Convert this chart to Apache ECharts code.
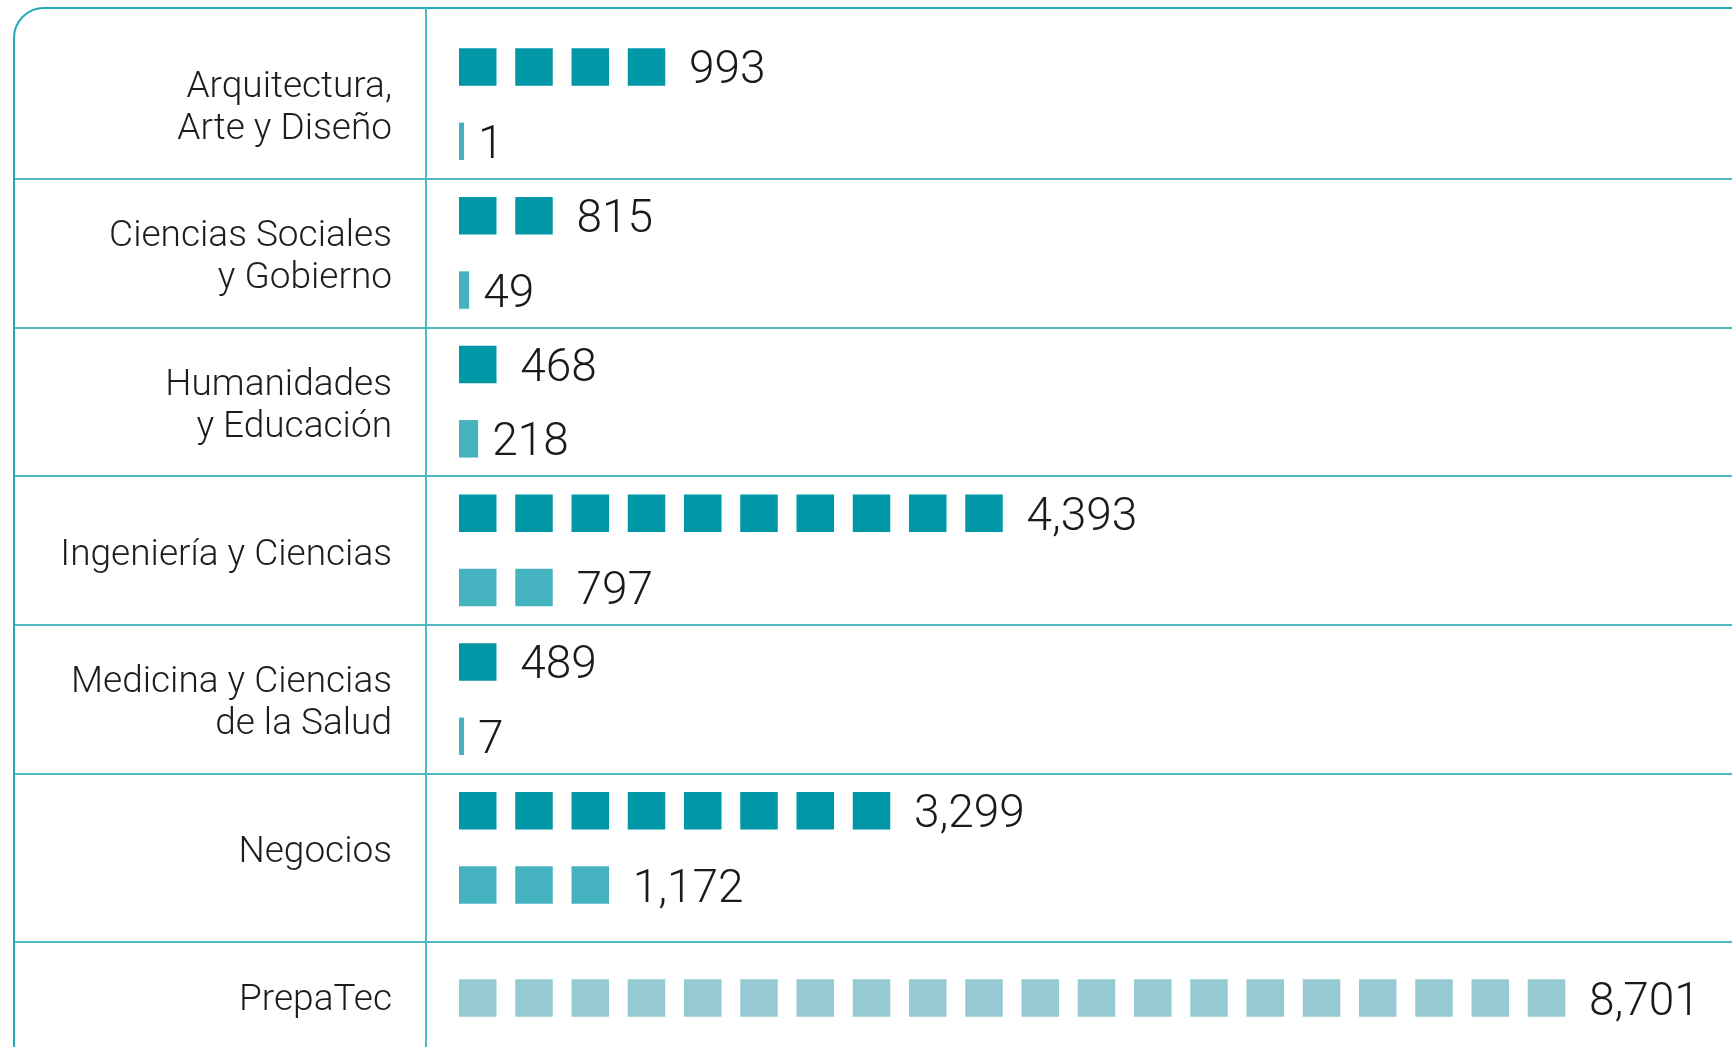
<!DOCTYPE html>
<html>
<head>
<meta charset="utf-8">
<title>Alumnos por escuela</title>
<script src="https://cdn.jsdelivr.net/npm/echarts@6/dist/echarts.min.js"></script>
<style>
  html, body { margin: 0; padding: 0; background: #fff; }
  #chart { width: 1732px; height: 1047px; }
</style>
</head>
<body>
<div id="chart"></div>
<script>
// data
const categories = [
  'Arquitectura,\nArte y Diseño',
  'Ciencias Sociales\ny Gobierno',
  'Humanidades\ny Educación',
  'Ingeniería y Ciencias',
  'Medicina y Ciencias\nde la Salud',
  'Negocios'
];
const valuesTop = [993, 815, 468, 4393, 489, 3299];
const valuesBottom = [1, 49, 218, 797, 7, 1172];
// how many squares each bar shows (1 = one square, < 1 = thin partial bar)
const iconsTop = [4, 2, 1, 10, 1, 8];
const iconsBottom = [0.09, 0.18, 0.34, 2, 0.09, 3];

const prepaCategory = ['PrepaTec'];
const prepaValues = [8701];
const prepaIcons = [20];

const MAX_ICONS = 20;

// layout
const W = 1732;
const FRAME_X = 14;
const BAR_X0 = 459;      // where squares start
const CELL = 56.25;      // px per square slot
const SQ = 37.5;         // square size
const DIVIDER_X = 426;
const ROW = 148.75;
const GRID_TOP = 29.75;
const PREPA_TOP = 942;

const FONT = 'Roboto, "Noto Sans", sans-serif';
const COLOR_TOP = '#0097a7';
const COLOR_BOTTOM = '#45b3bf';
const COLOR_PREPA = '#95cad3';
const LINE = '#4db7c2';

const gridWidth = W - FRAME_X;
const xMin = -(BAR_X0 - FRAME_X) / CELL;
const xMax = xMin + gridWidth / CELL;

const fmt = v => v.toLocaleString('en-US');

function buildItems(icons) {
  return icons.map(n => {
    if (n >= 1) return { value: n };
    // thin bar: one rect whose width follows the value
    return {
      value: n,
      symbolRepeat: false,
      symbolBoundingData: n,
      symbolSize: ['100%', SQ],
      symbolOffset: [0, 0],
      label: { distance: 14 }
    };
  });
}

function iconSeries(name, icons, values, color, idx, bandWidth, dy) {
  return {
    name: name,
    type: 'pictorialBar',
    xAxisIndex: idx,
    yAxisIndex: idx,
    symbol: 'rect',
    symbolRepeat: true,
    symbolBoundingData: MAX_ICONS,
    symbolMargin: '27%!',
    symbolSize: [SQ, SQ],
    symbolOffset: [-SQ * 0.25, dy],
    symbolPosition: 'start',
    barWidth: bandWidth,
    barGap: '0%',
    itemStyle: { color: color },
    label: {
      show: true,
      position: 'right',
      distance: 5,
      offset: [0, 5 + dy],
      fontFamily: FONT,
      fontWeight: 300,
      fontSize: 46,
      color: '#1a1a1a',
      formatter: p => fmt(values[p.dataIndex])
    },
    data: buildItems(icons)
  };
}

const catLabel = {
  inside: true,
  margin: 392 - FRAME_X,
  align: 'right',
  fontFamily: FONT,
  fontWeight: 300,
  fontSize: 37,
  lineHeight: 42,
  color: '#1d1d1b'
};

const hiddenX = i => ({ type: 'value', gridIndex: i, min: xMin, max: xMax, show: false });

const chart = echarts.init(document.getElementById('chart'), null, { renderer: 'canvas' });

chart.setOption({
  animation: false,
  backgroundColor: '#fff',
  grid: [
    { left: FRAME_X, right: 0, top: GRID_TOP, height: ROW * 6 },
    { left: FRAME_X, right: 0, top: PREPA_TOP, height: 105 },
    // label-only grids, nudged down a little like the original typesetting
    { left: FRAME_X, right: 0, top: GRID_TOP + 5, height: ROW * 6 },
    { left: FRAME_X, right: 0, top: 955, height: 92 }
  ],
  xAxis: [hiddenX(0), hiddenX(1), hiddenX(2), hiddenX(3)],
  yAxis: [
    {
      type: 'category', gridIndex: 0, data: categories, inverse: true,
      axisLine: { show: false }, axisTick: { show: false }, axisLabel: { show: false },
      splitLine: { show: true, showMinLine: false, showMaxLine: false, lineStyle: { color: LINE, width: 2 } }
    },
    {
      type: 'category', gridIndex: 1, data: prepaCategory, inverse: true,
      axisLine: { show: false }, axisTick: { show: false }, axisLabel: { show: false },
      splitLine: { show: true, showMinLine: true, showMaxLine: false, lineStyle: { color: LINE, width: 2 } }
    },
    {
      type: 'category', gridIndex: 2, data: categories, inverse: true,
      axisLine: { show: false }, axisTick: { show: false }, splitLine: { show: false },
      axisLabel: catLabel
    },
    {
      type: 'category', gridIndex: 3, data: prepaCategory, inverse: true,
      axisLine: { show: false }, axisTick: { show: false }, splitLine: { show: false },
      axisLabel: catLabel
    }
  ],
  graphic: [
    {
      type: 'rect', silent: true, z: 10,
      shape: { x: FRAME_X, y: 8, width: 1900, height: 1065, r: 30 },
      style: { fill: null, stroke: '#22a8b7', lineWidth: 2 }
    },
    {
      type: 'line', silent: true, z: 10,
      shape: { x1: DIVIDER_X, y1: 8, x2: DIVIDER_X, y2: 1047 },
      style: { stroke: LINE, lineWidth: 2 }
    }
  ],
  series: [
    iconSeries('top', iconsTop, valuesTop, COLOR_TOP, 0, ROW / 2, 0),
    iconSeries('bottom', iconsBottom, valuesBottom, COLOR_BOTTOM, 0, ROW / 2, 0),
    iconSeries('prepa', prepaIcons, prepaValues, COLOR_PREPA, 1, SQ, 3.5)
  ]
});
</script>
</body>
</html>
